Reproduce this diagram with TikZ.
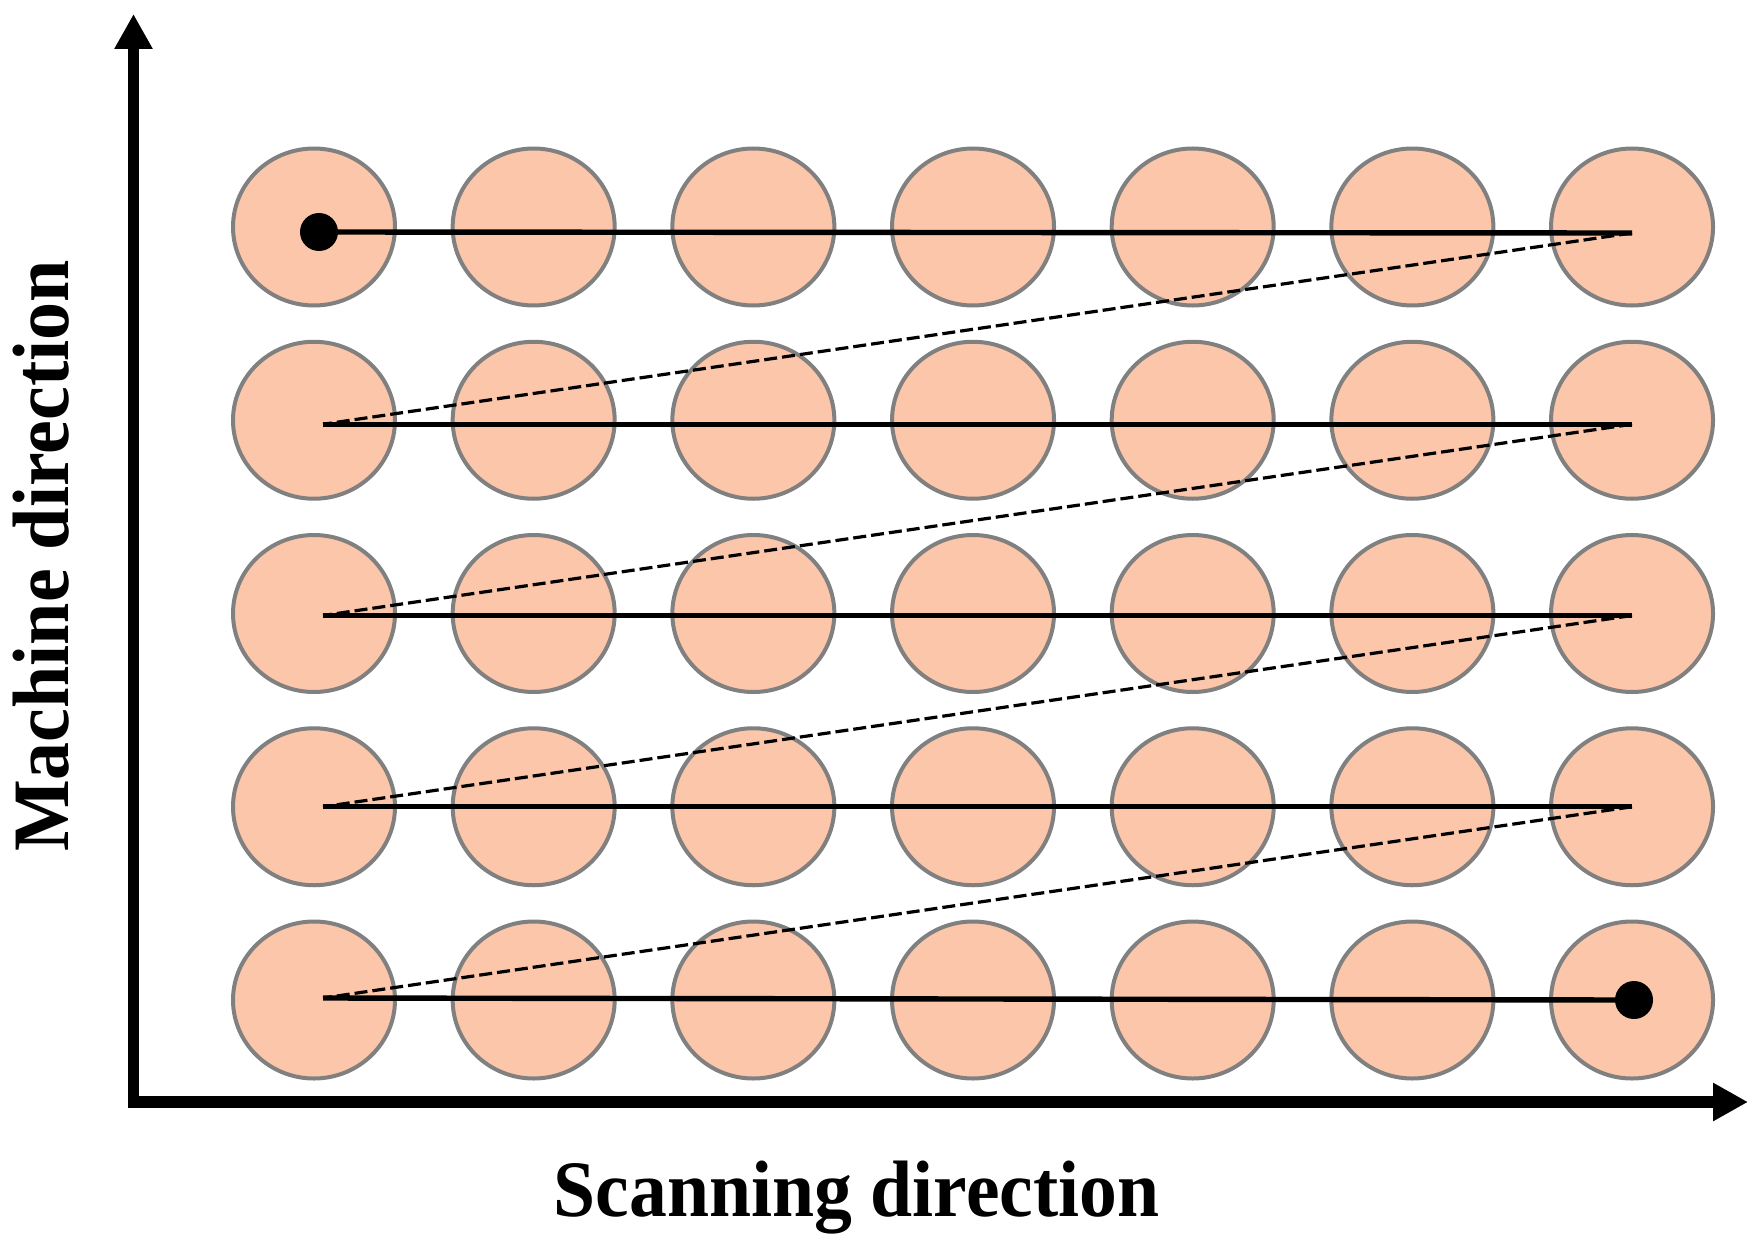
\documentclass[tikz,border=0pt]{standalone}
\usepackage{fontspec}
\usepackage{graphicx}
\setmainfont{Liberation Serif}
\usetikzlibrary{arrows.meta,shapes.geometric}
\definecolor{peach}{RGB}{251,198,169}
\definecolor{rimgray}{RGB}{128,128,128}
\tikzset{
  spot/.style={ellipse, draw=rimgray, line width=2pt, fill=peach, minimum width=81pt, minimum height=78.5pt, inner sep=0pt},
  pass/.style={line width=2.7pt, black},
  jump/.style={line width=1.6pt, black, dash pattern=on 6.5pt off 2.5pt},
  axisline/.style={line width=5.75pt, black, miter limit=10, line join=miter,
    {Triangle[length=17.5pt,width=18pt]}-{Triangle[length=17.5pt,width=18pt]}},
  dot/.style={circle, fill=black, inner sep=0pt, minimum size=19pt},
  axlabel/.style={font=\bfseries\fontsize{40}{48}\selectfont, inner sep=0pt, anchor=base}
}
\begin{document}
\begin{tikzpicture}[x=0.5pt, y=-0.5pt]
\useasboundingbox (0,0) rectangle (1760,1241);
% spots
\foreach \j in {0,...,4} {
  \foreach \k in {0,...,6} {
    \node[spot] (c-\j-\k) at ({314+219.67*\k},{227+193.25*\j}) {};
  }
}
% line end coordinates
\foreach \j in {0,...,4} {
  \coordinate (L-\j) at (323,{233+191.25*\j});
  \coordinate (R-\j) at (1632,{233+191.25*\j});
}
\node[dot] (start) at (319,232) {};
\node[dot] (finish) at (1634,1000) {};
% scan passes
\draw[pass] (start.center) -- (R-0);
\draw[pass] (L-1) -- (R-1);
\draw[pass] (L-2) -- (R-2);
\draw[pass] (L-3) -- (R-3);
\draw[pass] (L-4) -- (finish.center);
% jumps
\draw[jump] (R-0) -- (L-1);
\draw[jump] (R-1) -- (L-2);
\draw[jump] (R-2) -- (L-3);
\draw[jump] (R-3) -- (L-4);
% axes
\coordinate (ytip) at (133.5,14);
\coordinate (origin) at (133.5,1102);
\coordinate (xtip) at (1748,1102);
\draw[axisline] (ytip) -- (origin) -- (xtip);
% labels
\node[axlabel] (xlab) at (856.5,1216) {\scalebox{0.945}[1]{Scanning direction}};
\node[axlabel, rotate=90] (ylab) at (68,556) {\scalebox{0.95}[1]{Machine direction}};
\end{tikzpicture}
\end{document}
